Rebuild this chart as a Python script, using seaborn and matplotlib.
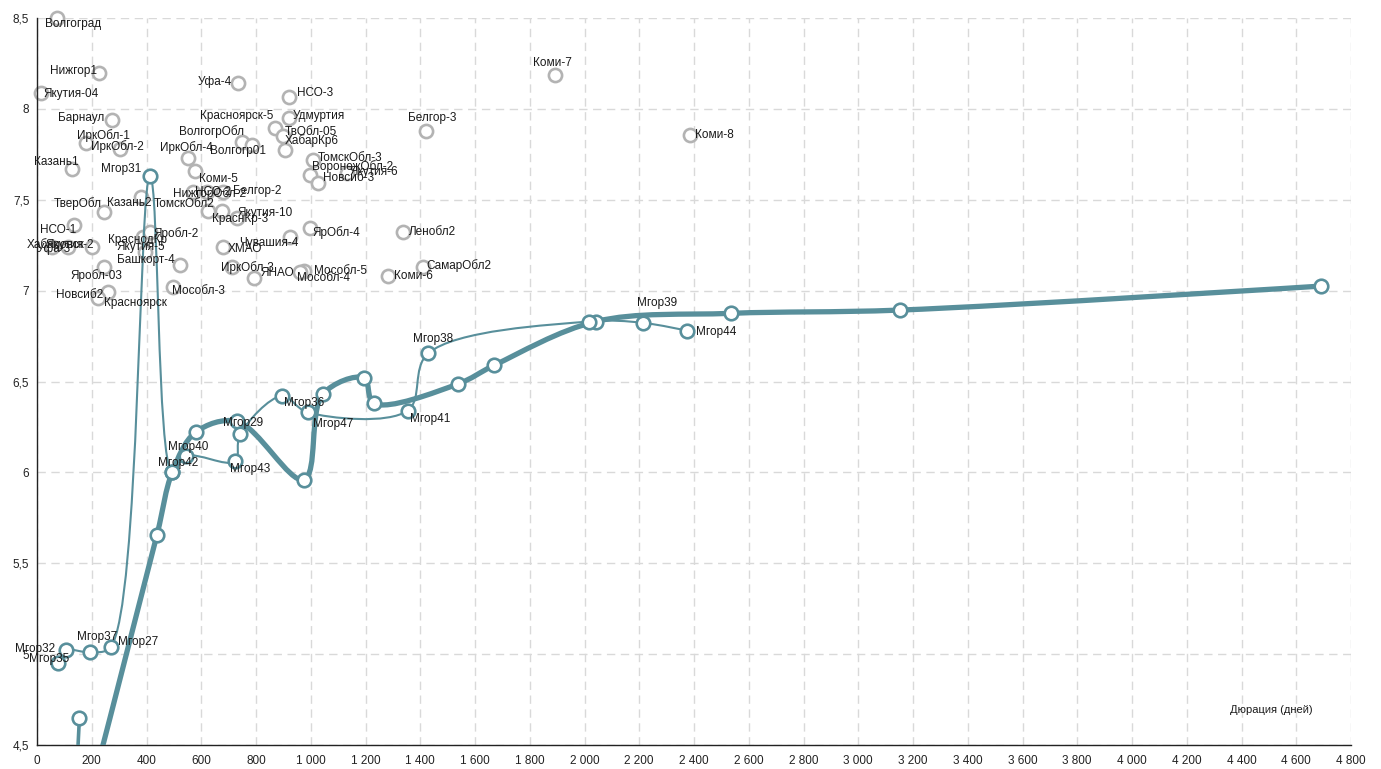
import matplotlib
matplotlib.use("Agg")
import numpy as np
import matplotlib.pyplot as plt
from matplotlib.path import Path
from matplotlib.patches import PathPatch
from matplotlib.ticker import FuncFormatter, MultipleLocator
import seaborn as sns

# --- данные: регионы (серые точки) ---
region_names = [
    "Волгоград", "Нижгор1", "Якутия-04", "Барнаул", "ИркОбл-1", "ИркОбл-2",
    "Казань1", "ТверОбл", "Казань2", "ИркОбл-4", "Коми-5", "НижгорОбл-2",
    "НСО-2", "Белгор-2", "ТомскОбл2", "Якутия-10", "КраснКр-3", "Уфа-4",
    "НСО-3", "Красноярск-5", "Удмуртия", "ТвОбл-05", "ХабарКр6", "ВолгогрОбл",
    "Волгогр01", "ТомскОбл-3", "ВоронежОбл-2", "Якутия-6", "Новсиб-3",
    "Белгор-3", "ЯрОбл-4", "Ленобл2", "Чувашия-4", "ХМАО", "ИркОбл-3", "ЯНАО",
    "Мособл-5", "Мособл-4", "Коми-6", "СамарОбл2", "Мособл-3", "Коми-7",
    "Коми-8", "НСО-1", "Уфа-3", "Хабаровск", "Якутия-2", "КраснодКр",
    "Яробл-2", "Якутия-5", "Башкорт-4", "Яробл-03", "Новсиб2", "Красноярск",
]
region_x = [
    73, 226, 15, 274, 179, 303,
    128, 245, 380, 552, 577, 570,
    621, 679, 625, 676, 731, 734,
    921, 869, 921, 899, 906, 749,
    785, 1008, 997, 1132, 1026,
    1421, 997, 1337, 924, 679, 712, 793,
    975, 961, 1282, 1410, 497, 1892,
    2385, 135, 55, 113, 201, 387,
    413, 395, 522, 245, 259, 223,
]
region_y = [
    8.50, 8.20, 8.09, 7.94, 7.81, 7.78,
    7.67, 7.43, 7.515, 7.73, 7.66, 7.54,
    7.54, 7.54, 7.44, 7.44, 7.40, 8.14,
    8.065, 7.895, 7.95, 7.85, 7.775, 7.82,
    7.80, 7.72, 7.635, 7.645, 7.59,
    7.88, 7.345, 7.32, 7.295, 7.24, 7.13, 7.07,
    7.11, 7.10, 7.08, 7.13, 7.02, 8.185,
    7.855, 7.36, 7.24, 7.24, 7.24, 7.295,
    7.32, 7.21, 7.14, 7.13, 6.99, 6.96,
]

# --- данные: Мгор (тонкая линия с подписями) ---
mgor_names = [
    "Мгор35", "Мгор32", "Мгор37", "Мгор27", "Мгор31", "Мгор42", "Мгор40",
    "Мгор43", "Мгор29", "Мгор36", "Мгор47", "Мгор41", "Мгор38", "",
    "Мгор39", "Мгор44",
]
mgor_x = [78, 106, 194, 269, 413, 494, 546, 722, 742, 894, 989, 1354, 1429,
          2016, 2213, 2373]
mgor_y = [4.95, 5.02, 5.01, 5.04, 7.63, 6.00, 6.09, 6.06, 6.21, 6.42, 6.33,
          6.34, 6.655, 6.83, 6.823, 6.78]

# --- данные: толстая линия ---
trend_x = [155, 438, 494, 579, 731, 975, 1044, 1194, 1231, 1537, 1671, 2041,
           2534, 3153, 4690]
trend_y = [4.0, 5.655, 6.0, 6.22, 6.28, 5.96, 6.43, 6.52, 6.38, 6.486, 6.59,
           6.83, 6.875, 6.893, 7.025]

# --- данные: короткий отрезок внизу ---
stub_x = [155, 140]
stub_y = [4.65, 4.2]

# подписи: (выравнивание, dx, dy вниз) в пикселях
region_offsets = {
    "Волгоград": ("left", -12, 6), "Нижгор1": ("right", -2, -2),
    "Якутия-04": ("left", 2, 1), "Барнаул": ("right", -8, -2),
    "ИркОбл-1": ("left", -9, -8), "ИркОбл-2": ("left", -29, -2),
    "Казань1": ("right", 7, -7), "ТверОбл": ("right", -2, -9),
    "Казань2": ("left", -34, 6), "ИркОбл-4": ("left", -28, -10),
    "Коми-5": ("left", 4, 8), "НижгорОбл-2": ("left", -20, 1),
    "НСО-2": ("left", -12, 0), "Белгор-2": ("left", 10, -1),
    "ТомскОбл2": ("right", 6, -7), "Якутия-10": ("left", 15, 2),
    "КраснКр-3": ("left", -25, 1), "Уфа-4": ("right", -6, -1),
    "НСО-3": ("left", 8, -4), "Красноярск-5": ("right", -2, -12),
    "Удмуртия": ("left", 4, -2), "ТвОбл-05": ("left", 2, -4),
    "ХабарКр6": ("left", 0, -9), "ВолгогрОбл": ("right", 2, -10),
    "Волгогр01": ("left", -42, 6), "ТомскОбл-3": ("left", 5, -2),
    "ВоронежОбл-2": ("left", 2, -9), "Якутия-6": ("left", 3, -1),
    "Новсиб-3": ("left", 5, -5), "Белгор-3": ("left", -18, -13),
    "ЯрОбл-4": ("left", 3, 5), "Ленобл2": ("left", 6, 0),
    "Чувашия-4": ("right", 9, 6), "ХМАО": ("left", 5, 2),
    "ИркОбл-3": ("left", -11, 1), "ЯНАО": ("left", 6, -5),
    "Мособл-5": ("left", 10, 0), "Мособл-4": ("left", -3, 6),
    "Коми-6": ("left", 6, 0), "СамарОбл2": ("left", 3, -1),
    "Мособл-3": ("left", -1, 4), "Коми-7": ("left", -22, -12),
    "Коми-8": ("left", 5, 0), "НСО-1": ("right", 2, 5),
    "Уфа-3": ("left", -15, 2), "Хабаровск": ("left", -41, -2),
    "Якутия-2": ("right", 2, -2), "КраснодКр": ("left", -35, 3),
    "Яробл-2": ("left", 3, 1), "Якутия-5": ("left", -29, -5),
    "Башкорт-4": ("right", -5, -5), "Яробл-03": ("left", -34, 9),
    "Новсиб2": ("right", -5, 3), "Красноярск": ("left", 6, 5),
}
mgor_offsets = {
    "Мгор35": ("left", -29, -4), "Мгор32": ("right", -11, -1),
    "Мгор37": ("left", -13, -15), "Мгор27": ("left", 7, -5),
    "Мгор31": ("right", -9, -7), "Мгор42": ("left", -14, -9),
    "Мгор40": ("left", -18, -9), "Мгор43": ("left", -5, 8),
    "Мгор29": ("left", -17, -11), "Мгор36": ("left", 2, 7),
    "Мгор47": ("left", 5, 12), "Мгор41": ("left", 2, 8),
    "Мгор38": ("left", -15, -14), "Мгор39": ("left", -6, -20),
    "Мгор44": ("left", 9, 1),
}

TEAL = "#588f9b"
GREY = "#b3b3b3"

sns.set_theme(style="white")
plt.rcParams["font.family"] = ["Liberation Sans", "DejaVu Sans"]

W, H = 1381, 769
fig = plt.figure(figsize=(W / 100, H / 100), dpi=100)
ax = fig.add_axes([37 / W, 24 / H, 1314 / W, 727 / H])
ax.set_xlim(0, 4800)
ax.set_ylim(4.5, 8.5)

# масштаб в пикселях для сглаживания (centripetal Catmull-Rom)
p0 = ax.transData.transform((0, 4.5))
p1 = ax.transData.transform((4800, 8.5))
sx = (p1[0] - p0[0]) / 4800
sy = (p1[1] - p0[1]) / 4.0


def smooth_path(xs, ys, alpha=0.5):
    pts = np.column_stack([np.asarray(xs) * sx, np.asarray(ys) * sy])
    n = len(pts)
    verts = [pts[0]]
    codes = [Path.MOVETO]
    for i in range(n - 1):
        a = pts[max(i - 1, 0)]
        b = pts[i]
        c = pts[i + 1]
        d = pts[min(i + 2, n - 1)]
        l01 = np.linalg.norm(b - a) ** alpha
        l12 = np.linalg.norm(c - b) ** alpha
        l23 = np.linalg.norm(d - c) ** alpha
        c1 = b.copy()
        c2 = c.copy()
        if l01 > 1e-9:
            k = 2 * l01 ** 2 + 3 * l01 * l12 + l12 ** 2
            m = 3 * l01 * (l01 + l12)
            c1 = (b * k - a * l12 ** 2 + c * l01 ** 2) / m
        if l23 > 1e-9:
            k = 2 * l23 ** 2 + 3 * l23 * l12 + l12 ** 2
            m = 3 * l23 * (l23 + l12)
            c2 = (c * k + b * l23 ** 2 - d * l12 ** 2) / m
        verts += [c1, c2, c]
        codes += [Path.CURVE4] * 3
    verts = np.array(verts) / [sx, sy]
    return Path(verts, codes)


# сетка
ax.xaxis.set_major_locator(MultipleLocator(200))
ax.yaxis.set_major_locator(MultipleLocator(0.5))
ax.grid(True, color="#d9d9d9", linestyle=(0, (6, 4)), linewidth=1)
ax.set_axisbelow(True)

# серые точки регионов
sns.scatterplot(x=region_x, y=region_y, ax=ax, s=90, color="white",
                edgecolor=GREY, linewidth=1.9, zorder=2, legend=False,
                clip_on=False)

# линии
for xs, ys, lw in [(trend_x, trend_y, 3.8), (mgor_x, mgor_y, 1.5),
                   (stub_x, stub_y, 2.6)]:
    ax.add_patch(PathPatch(smooth_path(xs, ys), facecolor="none",
                           edgecolor=TEAL, linewidth=lw, zorder=3,
                           capstyle="round", joinstyle="round"))

# точки Мгор
for xs, ys in [(trend_x, trend_y), (mgor_x, mgor_y), (stub_x[:1], stub_y[:1])]:
    sns.scatterplot(x=xs, y=ys, ax=ax, s=95, color="white", edgecolor=TEAL,
                    linewidth=1.9, zorder=4, legend=False)

# подписи
for names, xs, ys, offs in [(region_names, region_x, region_y, region_offsets),
                            (mgor_names, mgor_x, mgor_y, mgor_offsets)]:
    for name, x, y in zip(names, xs, ys):
        if not name:
            continue
        ha, dx, dy = offs[name]
        ax.annotate(name, (x, y), xytext=(dx, -dy), textcoords="offset pixels",
                    ha=ha, va="center", fontsize=8.5, color="#1a1a1a",
                    zorder=5)

ax.text(0.971, 0.048, "Дюрация (дней)", transform=ax.transAxes, ha="right",
        va="center", fontsize=8, color="#1a1a1a")

# оси
for side in ["top", "right"]:
    ax.spines[side].set_visible(False)
for side in ["left", "bottom"]:
    ax.spines[side].set_color("#222222")
    ax.spines[side].set_linewidth(1.0)
ax.tick_params(axis="both", direction="inout", length=7, width=1,
               color="#222222", labelsize=8.5, labelcolor="#222222")
ax.tick_params(axis="x", pad=4)
ax.tick_params(axis="y", pad=2)
ax.xaxis.set_major_formatter(FuncFormatter(lambda v, _: f"{int(v):,}".replace(",", " ")))
ax.yaxis.set_major_formatter(FuncFormatter(lambda v, _: f"{v:g}".replace(".", ",")))

fig.savefig("out.png", dpi=100)
